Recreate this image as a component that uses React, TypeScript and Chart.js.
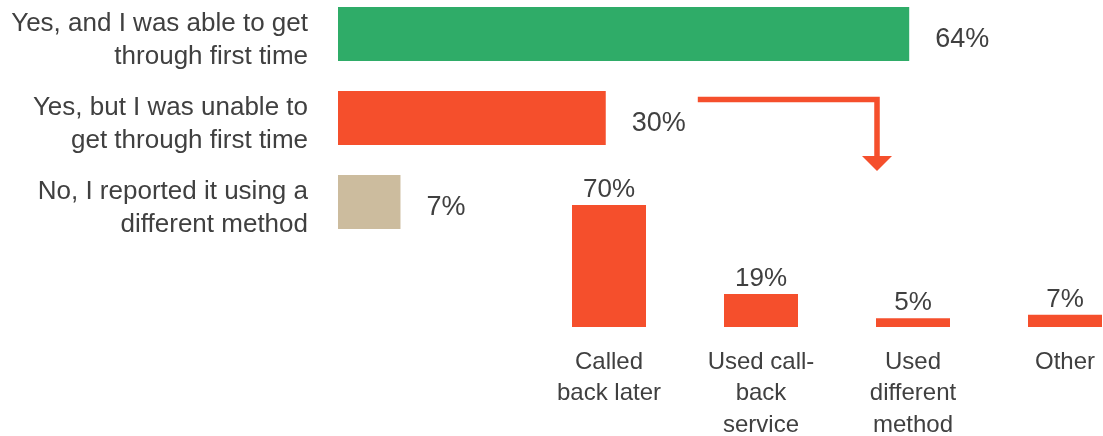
import React, { useEffect, useRef } from 'react';
import { Chart, registerables } from 'chart.js';

Chart.register(...registerables);

// ---- data ----
const answerLabels: string[][] = [
  ['Yes, and I was able to get', 'through first time'],
  ['Yes, but I was unable to', 'get through first time'],
  ['No, I reported it using a', 'different method'],
];
const answerValues: number[] = [64, 30, 7];
const answerColors: string[] = ['#2FAC68', '#F54F2C', '#CCBC9E'];

const followLabels: string[][] = [
  ['Called', 'back later'],
  ['Used call-', 'back', 'service'],
  ['Used', 'different', 'method'],
  ['Other'],
];
const followValues: number[] = [70, 19, 5, 7];
const followColor = '#F54F2C';

// ---- style ----
const FONT = "'Liberation Sans', Arial, Helvetica, sans-serif";
const TEXT = '#404040';
const ARROW = '#F54F2C';

// top canvas is shifted up so the axis' label padding fits above the first bar
const TOP_SHIFT = 40;
const TOP_H = 312;
const BOT_TOP = 150;
const BOT_W = 1130;
const BOT_H = 286;

const topPlugin = {
  id: 'topValueLabels',
  afterDatasetsDraw(chart: any) {
    const ctx = chart.ctx as CanvasRenderingContext2D;
    const meta = chart.getDatasetMeta(0);
    ctx.save();
    ctx.font = `27px ${FONT}`;
    ctx.fillStyle = TEXT;
    ctx.textAlign = 'left';
    ctx.textBaseline = 'alphabetic';
    meta.data.forEach((bar: any, i: number) => {
      ctx.fillText(answerValues[i] + '%', bar.x + 26, bar.y + 13);
    });
    // connector arrow from the "unable" bar to the breakdown below
    const b = meta.data[1];
    const w = ctx.measureText(answerValues[1] + '%').width;
    const x0 = b.x + 26 + w + 12;
    const y0 = b.y - 18.5;
    const xc = 877;
    ctx.strokeStyle = ARROW;
    ctx.lineWidth = 5.5;
    ctx.lineJoin = 'miter';
    ctx.lineCap = 'butt';
    ctx.beginPath();
    ctx.moveTo(x0, y0);
    ctx.lineTo(xc, y0);
    ctx.lineTo(xc, y0 + 58.5);
    ctx.stroke();
    ctx.fillStyle = ARROW;
    ctx.beginPath();
    ctx.moveTo(xc - 15, y0 + 56.5);
    ctx.lineTo(xc + 15, y0 + 56.5);
    ctx.lineTo(xc, y0 + 71.5);
    ctx.closePath();
    ctx.fill();
    ctx.restore();
  },
};

const bottomPlugin = {
  id: 'bottomValueLabels',
  afterDatasetsDraw(chart: any) {
    const ctx = chart.ctx as CanvasRenderingContext2D;
    const meta = chart.getDatasetMeta(0);
    ctx.save();
    ctx.font = `26px ${FONT}`;
    ctx.fillStyle = TEXT;
    ctx.textAlign = 'center';
    ctx.textBaseline = 'alphabetic';
    meta.data.forEach((bar: any, i: number) => {
      ctx.fillText(followValues[i] + '%', bar.x, bar.y - 8);
    });
    ctx.restore();
  },
};

export default function App() {
  const topRef = useRef<HTMLCanvasElement>(null);
  const botRef = useRef<HTMLCanvasElement>(null);

  useEffect(() => {
    const top = new Chart(topRef.current as HTMLCanvasElement, {
      type: 'bar',
      data: {
        labels: answerLabels as any,
        datasets: [
          {
            data: answerValues,
            backgroundColor: answerColors,
            barPercentage: 54 / 84,
            categoryPercentage: 1,
            clip: false as any,
          },
        ],
      },
      options: {
        indexAxis: 'y',
        animation: false,
        responsive: false,
        maintainAspectRatio: false,
        layout: { padding: { top: 34 + TOP_SHIFT, bottom: TOP_H - TOP_SHIFT - 202, left: 0, right: 51 } },
        plugins: { legend: { display: false }, tooltip: { enabled: false } },
        scales: {
          x: { display: false, min: 0, max: 80 },
          y: {
            offset: false,
            grid: { display: false, drawTicks: false },
            border: { display: false },
            ticks: {
              padding: 30,
              color: TEXT,
              autoSkip: false,
              labelOffset: 6,
              font: { family: FONT, size: 26, lineHeight: 1.27 },
            },
            afterFit: (s: any) => {
              s.width = 338;
            },
          },
        },
      },
      plugins: [topPlugin],
    } as any);

    const bot = new Chart(botRef.current as HTMLCanvasElement, {
      type: 'bar',
      data: {
        labels: followLabels as any,
        datasets: [
          {
            data: followValues,
            backgroundColor: followColor,
            barPercentage: 74 / 152,
            categoryPercentage: 1,
            clip: false as any,
          },
        ],
      },
      options: {
        animation: false,
        responsive: false,
        maintainAspectRatio: false,
        layout: { padding: { top: 55, bottom: 0, left: 609, right: BOT_W - 1065 } },
        plugins: { legend: { display: false }, tooltip: { enabled: false } },
        scales: {
          y: { display: false, min: 0, max: 70 },
          x: {
            offset: false,
            grid: { display: false, drawTicks: false },
            border: { display: false },
            ticks: {
              padding: 20,
              maxRotation: 0,
              minRotation: 0,
              autoSkip: false,
              color: TEXT,
              font: { family: FONT, size: 24, lineHeight: 1.3 },
            },
            afterFit: (s: any) => {
              s.height = 109;
            },
          },
        },
      },
      plugins: [bottomPlugin],
    } as any);

    return () => {
      top.destroy();
      bot.destroy();
    };
  }, []);

  return (
    <div style={{ position: 'absolute', left: 0, top: 0, width: 1103, height: 436, background: '#ffffff', overflow: 'hidden' }}>
      <canvas
        ref={botRef}
        width={BOT_W}
        height={BOT_H}
        style={{ position: 'absolute', left: 0, top: BOT_TOP, width: BOT_W, height: BOT_H }}
      />
      <canvas
        ref={topRef}
        width={1103}
        height={TOP_H}
        style={{ position: 'absolute', left: 0, top: -TOP_SHIFT, width: 1103, height: TOP_H }}
      />
    </div>
  );
}
